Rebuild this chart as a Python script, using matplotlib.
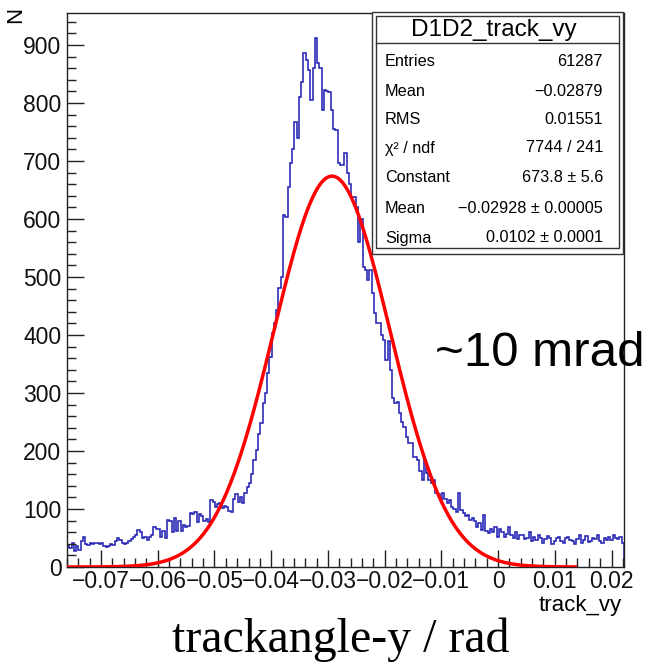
import numpy as np
import matplotlib
matplotlib.use("Agg")
import matplotlib.pyplot as plt
from matplotlib.patches import Rectangle
from matplotlib.ticker import MultipleLocator, FixedLocator

plt.rcParams['font.family'] = ['Liberation Sans', 'DejaVu Sans']

# ---------------- data ----------------
hist_range = (-0.0760, 0.0222)
counts = [
    38, 32, 42, 27, 36, 30, 44, 52, 40, 38,
    41, 40, 41, 42, 40, 41, 36, 35, 36, 40,
    38, 44, 50, 47, 41, 40, 42, 45, 48, 52,
    56, 64, 60, 50, 52, 47, 52, 55, 69, 66,
    66, 52, 62, 50, 81, 80, 60, 84, 62, 80,
    62, 72, 69, 70, 93, 92, 94, 78, 92, 88,
    80, 82, 78, 115, 112, 104, 108, 110, 102, 106,
    104, 96, 95, 118, 125, 112, 120, 110, 128, 138,
    145, 160, 184, 202, 230, 248, 283, 300, 334, 362,
    403, 420, 443, 481, 500, 607, 603, 655, 697, 720,
    767, 740, 810, 836, 886, 874, 857, 805, 860, 912,
    869, 860, 788, 822, 820, 819, 788, 755, 753, 697,
    693, 693, 714, 679, 660, 638, 638, 620, 560, 600,
    517, 512, 495, 512, 472, 438, 421, 421, 400, 391,
    357, 390, 340, 291, 283, 285, 265, 250, 241, 224,
    214, 214, 190, 190, 184, 165, 150, 184, 162, 150,
    145, 150, 128, 125, 116, 128, 118, 110, 115, 104,
    100, 95, 128, 98, 93, 88, 90, 81, 85, 80,
    69, 75, 64, 90, 62, 59, 65, 60, 69, 52,
    65, 60, 52, 57, 69, 55, 50, 60, 48, 55,
    55, 48, 50, 60, 45, 52, 46, 55, 50, 42,
    48, 53, 50, 40, 44, 50, 52, 45, 42, 50,
    52, 47, 44, 40, 48, 55, 42, 46, 54, 43,
    45, 50, 48, 55, 44, 42, 50, 46, 52, 47,
    55, 50, 48, 52, 42,
]
fit_constant = 673.8
fit_mean = -0.02928
fit_sigma = 0.0102
fit_range = (-0.0760, 0.0136)

stats_title = "D1D2_track_vy"
stat_labels = ["Entries", "Mean", "RMS", "χ² / ndf", "Constant", "Mean", "Sigma"]
stat_values = ["61287", "−0.02879", "0.01551", "7744 / 241",
               "673.8 ± 5.6", "−0.02928 ± 0.00005", "0.0102 ± 0.0001"]

x_ticks = [-0.07, -0.06, -0.05, -0.04, -0.03, -0.02, -0.01, 0.0, 0.01, 0.02]
x_ticklabels = ["−0.07", "−0.06", "−0.05", "−0.04", "−0.03", "−0.02", "−0.01", "0", "0.01", "0.02"]
y_ticks = [0, 100, 200, 300, 400, 500, 600, 700, 800, 900]
y_max = 955

# ---------------- figure ----------------
W, H = 648, 670
fig = plt.figure(figsize=(W / 100, H / 100), dpi=100)
ax = fig.add_axes([67 / W, 1 - 567 / H, (624 - 67) / W, (567 - 13) / H])

edges = np.linspace(hist_range[0], hist_range[1], len(counts) + 1)
ax.stairs(counts, edges, color='#2424b4', lw=1.15, baseline=0)

xf = np.linspace(fit_range[0], fit_range[1], 600)
yf = fit_constant * np.exp(-0.5 * ((xf - fit_mean) / fit_sigma) ** 2)
ax.plot(xf, yf, color='#ff0000', lw=2.5, zorder=3)

ax.set_xlim(hist_range)
ax.set_ylim(0, y_max)

ax.xaxis.set_major_locator(FixedLocator(x_ticks))
ax.set_xticklabels(x_ticklabels)
ax.xaxis.set_minor_locator(MultipleLocator(0.002))
ax.yaxis.set_major_locator(FixedLocator(y_ticks))
ax.yaxis.set_minor_locator(MultipleLocator(20))

ax.tick_params(axis='both', which='major', direction='in', length=12, width=1,
               labelsize=16.5, color='#222222', labelcolor='#111111')
ax.tick_params(axis='both', which='minor', direction='in', length=6.5, width=1,
               color='#222222')
ax.tick_params(axis='x', which='major', pad=2.5)
ax.tick_params(axis='y', which='major', pad=4)
for s in ax.spines.values():
    s.set_linewidth(1.0)
    s.set_color('#222222')

# axis titles
fig.text(622 / W, 1 - 606 / H, "track_vy", ha='right', va='center', fontsize=16)
fig.text(16 / W, 1 - 15 / H, "N", ha='center', va='center', fontsize=16, rotation=90)

# stats box
def fx(px):
    return px / W

def fy(py):
    return 1 - py / H

outer = Rectangle((fx(372), fy(254)), fx(623) - fx(372), fy(12) - fy(254),
                  transform=fig.transFigure, fill=True, facecolor='white',
                  edgecolor='#333333', lw=1.0, zorder=5)
inner = Rectangle((fx(376), fy(248)), fx(619) - fx(376), fy(16) - fy(248),
                  transform=fig.transFigure, fill=False,
                  edgecolor='#333333', lw=1.0, zorder=6)
fig.add_artist(outer)
fig.add_artist(inner)
fig.add_artist(plt.Line2D([fx(376), fx(619)], [fy(43), fy(43)],
                          transform=fig.transFigure, color='#333333', lw=1.0, zorder=6))
fig.text(fx(494), fy(30), stats_title, ha='center', va='center', fontsize=17.5, zorder=7)
row_y = [61, 91, 120, 148, 178, 209, 238]
for lab, val, ry in zip(stat_labels, stat_values, row_y):
    fig.text(fx(385), fy(ry), lab, ha='left', va='center', fontsize=11.7, zorder=7)
    fig.text(fx(603), fy(ry), val, ha='right', va='center', fontsize=11.7, zorder=7)

# annotations
fig.text(fx(435), fy(354), "~10 mrad", ha='left', va='center', fontsize=35.5)
fig.text(fx(341), fy(640), "trackangle-y / rad", ha='center', va='center',
         fontsize=34.5, family=['Liberation Serif', 'DejaVu Serif'])

fig.savefig("out.png", dpi=100)
